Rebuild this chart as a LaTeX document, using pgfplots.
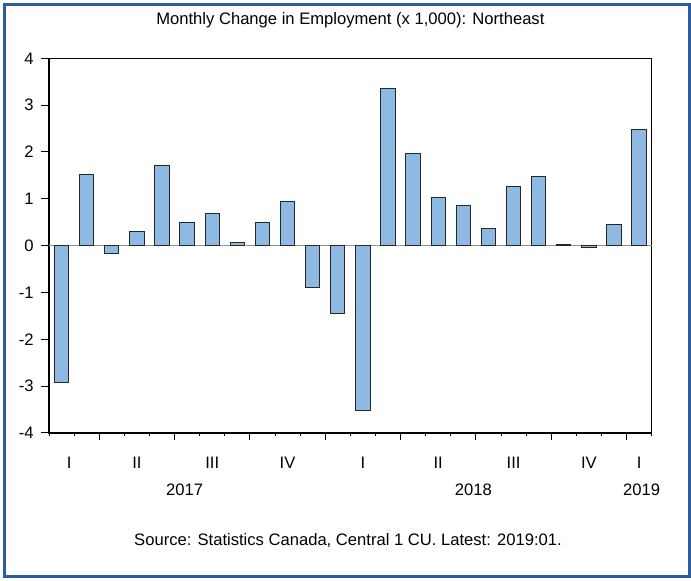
\documentclass[border=0pt]{standalone}
\usepackage{pgfplots}
\pgfplotsset{compat=1.18}
\usepackage{fontspec}
\setmainfont{Liberation Sans}
\definecolor{barfill}{HTML}{8DB9E3}
\definecolor{framecol}{HTML}{2E5C9A}

\begin{document}
\fontsize{8.3}{10}\selectfont
\begin{tikzpicture}
\useasboundingbox (0,0) rectangle (345.5pt,290.5pt);
\draw[framecol, line width=1.5pt] (2.25pt,2.25pt) rectangle (344.5pt,288.25pt);

\begin{axis}[
    at={(24.5pt,74pt)}, anchor=south west,
    scale only axis, width=301.35pt, height=187.35pt,
    xmin=0.5, xmax=24.5, ymin=-4, ymax=4,
    ytick={-4,-3,...,4},
    xtick={2.5,5.5,8.5,11.5,14.5,17.5,20.5,23.5},
    minor xtick={0.5,1.5,...,24.5},
    xticklabels={},
    axis x line*=box, axis y line*=box,
    xtick pos=bottom, ytick pos=left,
    tick align=outside,
    major tick length=3.75pt, minor tick length=1.75pt,
    tick style={black, line width=0.5pt},
    axis line style={black, line width=0.6pt},
    /pgf/number format/assume math mode=true,
    yticklabel style={font=\fontsize{8.3}{10}\selectfont, xshift=-1pt},
    extra y ticks={0}, extra y tick labels={},
    extra y tick style={grid=major, major grid style={gray!85, line width=0.75pt}, major tick length=0pt},
    clip=false,
]
\addplot[ybar, bar width=0.57, fill=barfill, draw=black!85, line width=0.5pt] coordinates {
(1,-2.93) (2,1.51) (3,-0.16) (4,0.30) (5,1.71) (6,0.50) (7,0.68) (8,0.06)
(9,0.50) (10,0.94) (11,-0.90) (12,-1.45) (13,-3.51) (14,3.36) (15,1.96) (16,1.02)
(17,0.86) (18,0.37) (19,1.27) (20,1.47) (21,0.03) (22,-0.03) (23,0.46) (24,2.47)
};
\foreach \xx/\lab in {1.3/I, 4/II, 7/III, 10/IV, 13/I, 16/II, 19/III, 22/IV, 24/I}{
  \edef\tmp{\noexpand\node at (axis cs:\xx,-4) [yshift=-15pt] {\lab};}\tmp
}
\node at (axis cs:5.9,-4) [yshift=-28.5pt] {2017};
\node at (axis cs:17.4,-4) [yshift=-28.5pt] {2018};
\node at (axis cs:24.1,-4) [yshift=-28.5pt] {2019};
\end{axis}

\node at (175.2pt,280.5pt) {Monthly Change in Employment (x 1,000): Northeast};
\node at (174pt,20pt) {Source: Statistics Canada, Central 1 CU. Latest: 2019:01.};
\end{tikzpicture}
\end{document}
